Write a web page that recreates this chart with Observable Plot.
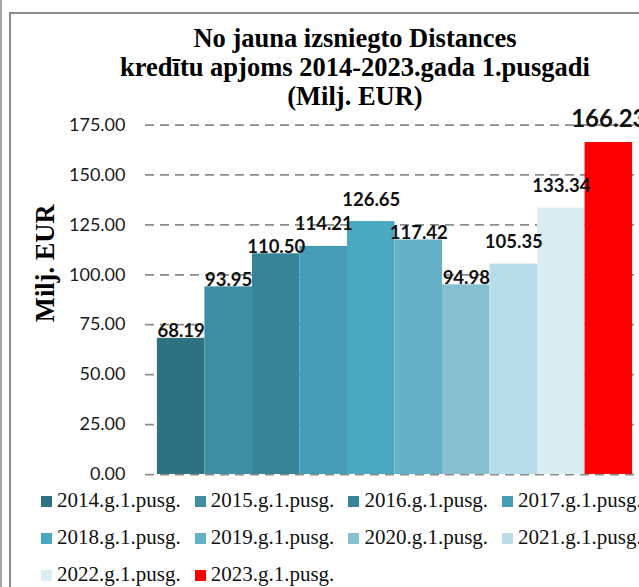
<!DOCTYPE html>
<html>
<head>
<meta charset="utf-8">
<script src="https://cdn.jsdelivr.net/npm/d3@7"></script>
<script src="https://cdn.jsdelivr.net/npm/@observablehq/plot@0.6"></script>
<style>
  html, body { margin: 0; padding: 0; background: #fff; overflow: hidden; }
  #frame { position: relative; width: 639px; height: 587px; overflow: hidden; background: #fff; }
  #outer { position: absolute; left: 0; top: 0; width: 2px; height: 587px; background: #a6a6a6; }
  #box { position: absolute; left: 9px; top: 12px; width: 700px; height: 700px; border: 2px solid #8c8c8c; box-sizing: border-box; }
  #chart { position: absolute; left: 0; top: 0; }
  #title { position: absolute; left: 55px; width: 600px; top: 23.5px; text-align: center;
           font: bold 26.5px/29px "Liberation Serif", "Times New Roman", serif; color: #000; }
  .item { position: absolute; font: 21px/21px "Liberation Serif", "Times New Roman", serif; color: #111; white-space: nowrap; }
  .sw { display: inline-block; width: 11px; height: 11px; margin-right: 5px; vertical-align: baseline; }
</style>
</head>
<body>
<div id="frame">
  <div id="outer"></div>
  <div id="box"></div>
  <div id="chart"></div>
  <div id="title"></div>
  <div id="legend"></div>
</div>
<script>
// ---- data ----
const titleLines = ["No jauna izsniegto Distances", "kredītu apjoms 2014-2023.gada 1.pusgadi", "(Milj. EUR)"];
const yTitle = "Milj. EUR";
const categories = ["2014.g.1.pusg.", "2015.g.1.pusg.", "2016.g.1.pusg.", "2017.g.1.pusg.", "2018.g.1.pusg.",
                    "2019.g.1.pusg.", "2020.g.1.pusg.", "2021.g.1.pusg.", "2022.g.1.pusg.", "2023.g.1.pusg."];
const values = [68.19, 93.95, 110.50, 114.21, 126.65, 117.42, 94.98, 105.35, 133.34, 166.23];
const yTicks = [0, 25, 50, 75, 100, 125, 150, 175];

// ---- style ----
const colors = ["#2e7282", "#3d8ea2", "#378497", "#449db4", "#4aa8c1", "#63b0c7", "#87bfd0", "#b7dee8", "#daedf3", "#ff0000"];
const highlight = "2023.g.1.pusg.";
const raisedLabels = new Set(["2017.g.1.pusg.", "2018.g.1.pusg.", "2021.g.1.pusg.", "2022.g.1.pusg."]);

const data = categories.map((c, i) => ({cat: c, value: values[i]}));
const fmt = d3.format(".2f");
const labelFont = "Lato, 'Open Sans', sans-serif";

document.getElementById("title").innerHTML = titleLines.map(t => `<div>${t}</div>`).join("");

const chart = Plot.plot({
  width: 639,
  height: 488,
  marginLeft: 145,
  marginRight: 0,
  marginTop: 124.5,
  marginBottom: 14,
  style: {background: "transparent", fontFamily: labelFont, fontSize: "18px", maxWidth: "none"},
  x: {domain: categories, range: [145, 644], paddingInner: 0, paddingOuter: 0.25, round: false, axis: null},
  y: {domain: [0, 175], axis: null},
  color: {domain: categories, range: colors},
  marks: [
    Plot.gridY(yTicks, {stroke: "#8c8c8c", strokeOpacity: 1, strokeWidth: 1.75, strokeDasharray: "9,6"}),
    Plot.barY(data, {x: "cat", y: "value", fill: "cat"}),
    Plot.axisY(yTicks, {tickFormat: fmt, tickSize: 0, tickPadding: 20, fontSize: 18, fontFamily: labelFont, fill: "#1a1a1a", label: null}),
    Plot.text(data.filter(d => !raisedLabels.has(d.cat) && d.cat !== highlight), {
      x: "cat", y: "value", text: d => fmt(d.value), lineAnchor: "bottom", dy: -1,
      fontWeight: "bold", fontSize: 18.5, fontFamily: labelFont, fill: "#111"
    }),
    Plot.text(data.filter(d => raisedLabels.has(d.cat)), {
      x: "cat", y: "value", text: d => fmt(d.value), lineAnchor: "bottom", dy: -16,
      fontWeight: "bold", fontSize: 18.5, fontFamily: labelFont, fill: "#111"
    }),
    Plot.text(data.filter(d => d.cat === highlight), {
      x: "cat", y: "value", text: d => fmt(d.value), lineAnchor: "bottom", dy: -15.5,
      fontWeight: "bold", fontSize: 24, fontFamily: labelFont, fill: "#111"
    }),
    Plot.text([yTitle], {
      text: d => d, frameAnchor: "left", rotate: -90, dx: -100, dy: -36.5,
      textAnchor: "middle", lineAnchor: "middle",
      fontFamily: "'Liberation Serif', 'Times New Roman', serif", fontWeight: "bold", fontSize: 26.5, fill: "#000"
    })
  ]
});
document.getElementById("chart").appendChild(chart);

// legend
const legend = document.getElementById("legend");
categories.forEach((c, i) => {
  const col = i % 4, row = Math.floor(i / 4);
  const el = document.createElement("div");
  el.className = "item";
  el.style.left = (41 + col * 153.7) + "px";
  el.style.top = (490.4 + row * 37) + "px";
  el.innerHTML = `<span class="sw" style="background:${colors[i]}"></span>${c}`;
  legend.appendChild(el);
});
</script>
</body>
</html>
